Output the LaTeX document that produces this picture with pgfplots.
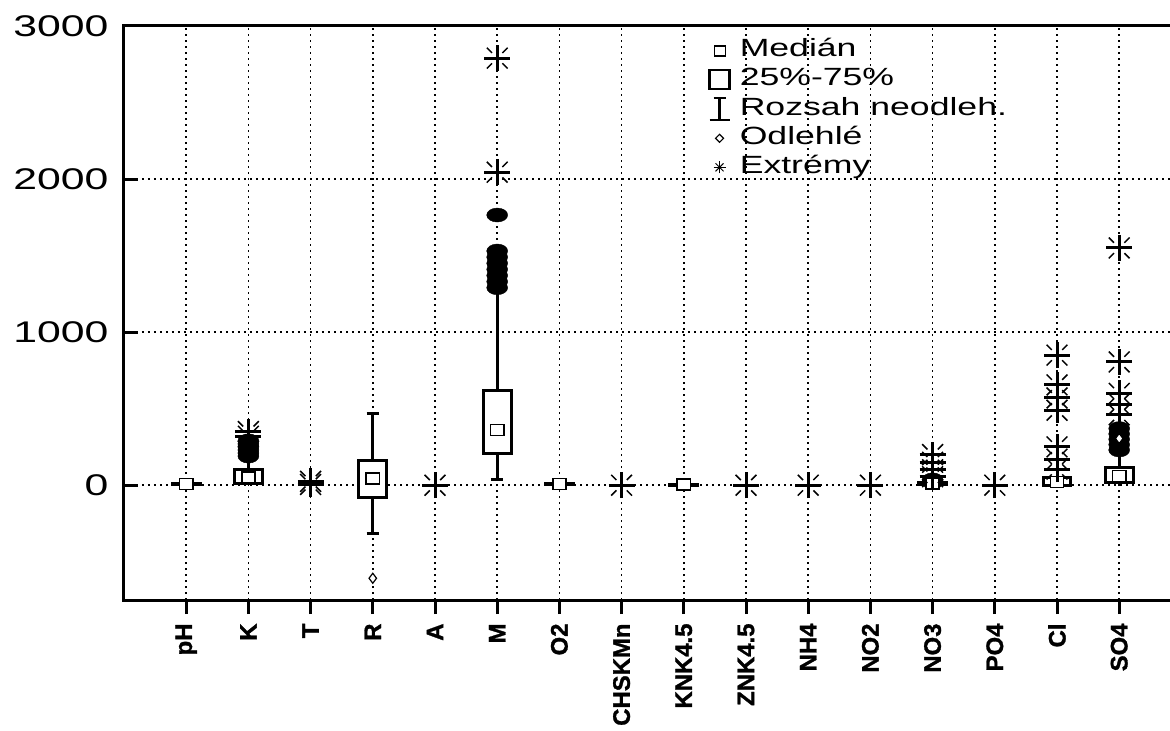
\documentclass[border=0pt]{standalone}
\usepackage{pgfplots}
\usepackage{pgfplotstable}
\pgfplotsset{compat=1.18}
\usepackage{fontspec}
\setmainfont{Liberation Sans}
\newfontfamily\widefont[FakeStretch=1.43]{Liberation Sans}
\newfontfamily\xlabfont[FakeBold=1.2]{Liberation Sans Bold}

% eight-spoke asterisk: thick + with thin diagonal dashes
\pgfdeclareplotmark{ast8}{%
  \pgfsetlinewidth{3bp}%
  \pgfpathmoveto{\pgfpoint{-\pgfplotmarksize}{0pt}}\pgfpathlineto{\pgfpoint{\pgfplotmarksize}{0pt}}%
  \pgfpathmoveto{\pgfpoint{0pt}{-\pgfplotmarksize}}\pgfpathlineto{\pgfpoint{0pt}{\pgfplotmarksize}}%
  \pgfusepathqstroke
  \pgfsetlinewidth{1.5bp}%
  \pgfpathmoveto{\pgfpoint{0.4\pgfplotmarksize}{0.4\pgfplotmarksize}}\pgfpathlineto{\pgfpoint{0.8\pgfplotmarksize}{0.8\pgfplotmarksize}}%
  \pgfpathmoveto{\pgfpoint{-0.4\pgfplotmarksize}{0.4\pgfplotmarksize}}\pgfpathlineto{\pgfpoint{-0.8\pgfplotmarksize}{0.8\pgfplotmarksize}}%
  \pgfpathmoveto{\pgfpoint{0.4\pgfplotmarksize}{-0.4\pgfplotmarksize}}\pgfpathlineto{\pgfpoint{0.8\pgfplotmarksize}{-0.8\pgfplotmarksize}}%
  \pgfpathmoveto{\pgfpoint{-0.4\pgfplotmarksize}{-0.4\pgfplotmarksize}}\pgfpathlineto{\pgfpoint{-0.8\pgfplotmarksize}{-0.8\pgfplotmarksize}}%
  \pgfusepathqstroke
}

% extremes (x = category index, y = value)
\pgfplotstableread{
x y
1 320
1 350
2 5
2 25
4 0
5 2045
5 2790
7 0
9 0
10 0
11 0
12 55
12 100
12 150
12 200
13 0
14 105
14 170
14 250
14 490
14 570
14 655
14 850
15 460
15 530
15 600
15 805
15 1550
}\extremes

\pgfplotsset{
  bx/.style={black, line width=3bp, fill=white, forget plot},
  wk/.style={black, line width=3bp, forget plot},
}

\begin{document}
\begin{tikzpicture}
\begin{axis}[
  at={(0,0)}, anchor=south west,
  scale only axis, width=1062bp, height=574bp,
  xmin=-1, xmax=16.074, ymin=-750, ymax=3000,
  xtick={0,1,...,15},
  xticklabels={pH,K,T,R,A,M,O2,CHSKMn,KNK4.5,ZNK4.5,NH4,NO2,NO3,PO4,Cl,SO4},
  ytick={0,1000,2000,3000},
  xtick pos=left, ytick pos=left,
  xtick align=outside, ytick align=inside,
  major tick length=14bp,
  tick style={black, line width=3bp},
  axis line style={line width=3bp},
  grid=major,
  major grid style={black, line width=1.6bp, dash pattern=on 1.6bp off 4.4bp},
  /pgf/number format/1000 sep={},
  /pgf/number format/assume math mode=true,
  yticklabel style={font=\widefont\fontsize{30}{36}\selectfont, xshift=-12bp},
  xticklabel style={rotate=90, anchor=east, font=\xlabfont\fontsize{24}{28}\selectfont, xshift=-6bp},
  legend style={at={(0.55,0.978)}, anchor=north west, draw=none, fill=none,
    inner sep=0pt, row sep=5bp, column sep=6bp,
    font=\widefont\fontsize{25}{29}\selectfont,
    nodes={inner sep=1bp, text height=17bp, text depth=5bp}},
  legend cell align=left,
]
% legend
\addlegendimage{legend image code/.code={\path (0bp,0bp) (24bp,0bp); \draw[line width=1.5bp, fill=white] (6bp,-5bp) rectangle (17bp,5bp);}}
\addlegendentry{Medián}
\addlegendimage{legend image code/.code={\path (0bp,0bp) (24bp,0bp); \draw[line width=2.5bp, fill=white] (1bp,-9bp) rectangle (21bp,10bp);}}
\addlegendentry{25\%-75\%}
\addlegendimage{legend image code/.code={\path (0bp,0bp) (24bp,0bp); \draw[line width=2.5bp] (11bp,-11bp) -- (11bp,11bp) (5bp,11bp) -- (17bp,11bp) (1bp,-11bp) -- (21bp,-11bp);}}
\addlegendentry{Rozsah neodleh.}
\addlegendimage{legend image code/.code={\path (0bp,0bp) (24bp,0bp); \draw[line width=1.2bp, fill=white] (11bp,-4bp) -- (15bp,0bp) -- (11bp,4bp) -- (7bp,0bp) -- cycle;}}
\addlegendentry{Odlehlé}
\addlegendimage{legend image code/.code={\path (0bp,0bp) (24bp,0bp); \draw[line width=1.3bp] (5bp,0bp) -- (17bp,0bp) (11bp,-6bp) -- (11bp,6bp); \draw[line width=0.9bp] (7bp,-4bp) -- (15bp,4bp) (7bp,4bp) -- (15bp,-4bp);}}
\addlegendentry{Extrémy}

% whiskers (lower whisker -> upper whisker), one segment per category
\addplot[wk, unbounded coords=jump] coordinates {
 (0,0) (0,15) (0,nan)
 (1,0) (1,150) (1,nan)
 (3,-314) (3,470) (3,nan)
 (5,40) (5,1260) (5,nan)
 (6,0) (6,18) (6,nan)
 (8,0) (8,9) (8,nan)
 (12,0) (12,30) (12,nan)
 (14,0) (14,70) (14,nan)
 (15,0) (15,220)
};
% whisker caps
\addplot[wk, unbounded coords=jump] coordinates {
 (2.9,-314) (3.1,-314) (3,nan)
 (2.9,470) (3.1,470) (3,nan)
 (4.9,40) (5.1,40)
};
% boxes (lower quartile to upper quartile)
\addplot[bx] coordinates {(-0.225,2) (0.225,2) (0.225,12) (-0.225,12)} -- cycle;
\addplot[bx] coordinates {(0.775,10) (1.225,10) (1.225,100) (0.775,100)} -- cycle;
\addplot[bx] coordinates {(2.775,-78) (3.225,-78) (3.225,163) (2.775,163)} -- cycle;
\addplot[bx] coordinates {(4.775,209) (5.225,209) (5.225,621) (4.775,621)} -- cycle;
\addplot[bx] coordinates {(5.775,2) (6.225,2) (6.225,14) (5.775,14)} -- cycle;
\addplot[bx] coordinates {(7.775,1) (8.225,1) (8.225,7) (7.775,7)} -- cycle;
\addplot[bx] coordinates {(11.775,2) (12.225,2) (12.225,18) (11.775,18)} -- cycle;
\addplot[bx] coordinates {(13.775,0) (14.225,0) (14.225,50) (13.775,50)} -- cycle;
\addplot[bx] coordinates {(14.775,15) (15.225,15) (15.225,118) (14.775,118)} -- cycle;

% dense outliers (appear filled)
\addplot[only marks, forget plot, mark=*, mark size=7bp, mark options={fill=black, draw=black, xscale=1.5}] coordinates {
 (1,190) (1,210) (1,230) (1,250) (1,270) (1,290)
 (5,1290) (5,1330) (5,1370) (5,1410) (5,1450) (5,1490) (5,1530) (5,1765)
 (12,20) (12,35)
 (15,230) (15,265) (15,300) (15,335) (15,370)
};
% single outliers (white diamonds)
\addplot[only marks, forget plot, mark=diamond*, mark size=5bp, mark options={fill=white, draw=black, line width=1.2bp}] coordinates {
 (3,-608) (15,305)
};
% medians
\addplot[only marks, forget plot, mark=square*, mark size=5.5bp, mark options={fill=white, draw=black, line width=1.5bp, xscale=1.2}] coordinates {
 (0,7) (1,50) (3,45) (5,360) (6,8) (8,4) (12,10) (14,20) (15,60)
};
% extremes
\addplot[only marks, forget plot, black, mark=ast8, mark size=13bp] table[x=x,y=y] {\extremes};
\end{axis}
\pgfresetboundingbox
\path[use as bounding box] (-124bp,-131bp) rectangle (1046bp,600bp);
\end{tikzpicture}
\end{document}
